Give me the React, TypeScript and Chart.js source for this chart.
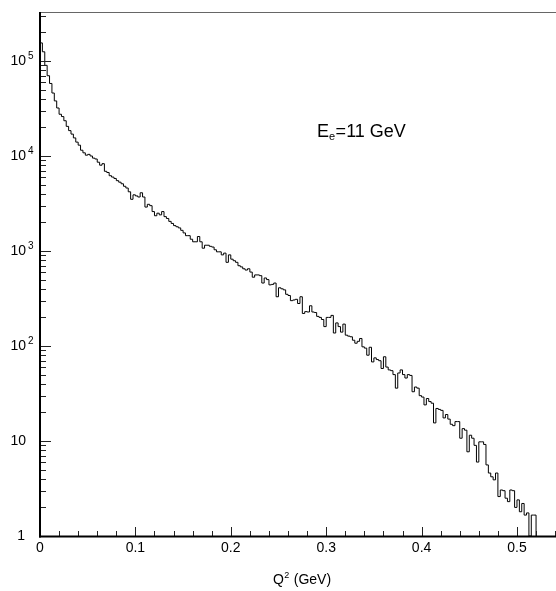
import React, { useEffect, useRef } from "react";
import { Chart, registerables } from "chart.js";

Chart.register(...registerables);

// Histogram: Q^2 distribution, bins of 0.0025 GeV starting at 0
const BIN_WIDTH = 0.0025;
const counts: number[] = [
  160000, 155000, 125000, 90000, 70000, 58000, 46000, 38000, 32000, 27500,
  26000, 23500, 20500, 18500, 17000, 15500, 14000, 13000, 11500, 10800,
  10200, 10400, 10000, 9500, 9300, 8600, 8000, 8300, 6900, 6700,
  6200, 6000, 5800, 5500, 5300, 5100, 4800, 4600, 4200, 3500,
  3900, 3800, 3700, 4100, 3700, 2900, 3100, 3000, 2600, 2350,
  2500, 2400, 2600, 2300, 2200, 2050, 1950, 1850, 1800, 1750,
  1650, 1550, 1450, 1450, 1330, 1250, 1250, 1420, 1250, 1070,
  1150, 1150, 1120, 1100, 1030, 980, 980, 910, 950, 760,
  910, 820, 790, 760, 700, 680, 650, 630, 650, 600,
  530, 560, 560, 550, 460, 520, 500, 440, 445, 460,
  330, 410, 400, 390, 350, 340, 300, 305, 310, 280,
  330, 220, 230, 228, 265, 228, 225, 205, 200, 190,
  160, 200, 200, 210, 137, 175, 160, 140, 170, 130,
  127, 125, 115, 107, 112, 120, 98, 95, 80, 97,
  68, 75, 72, 70, 58, 77, 60, 56, 55, 50,
  36, 52, 56, 50, 46, 50, 49, 33, 37, 36,
  30, 29, 24, 28, 26, 25, 15.5, 22, 21.5, 21,
  17.5, 19, 17, 15, 14.5, 16, 16, 10.7, 13.5, 13,
  7.7, 11.5, 10.7, 9, 6, 9.8, 9.8, 9.2, 5.6, 4.6,
  4.2, 3.9, 4.6, 2.6, 3.05, 3.0, 2.5, 2.3, 3.05, 3.0,
  2.0, 2.4, 1.8, 2.2, 1.66, 1.75, 1, 1.66,
];

const X_MIN = 0;
const X_MAX = 0.5409;
const Y_MIN = 1;
const Y_MAX = 320000;

const xMajorTicks = [0, 0.1, 0.2, 0.3, 0.4, 0.5];
const xTickLabels = ["0", "0.1", "0.2", "0.3", "0.4", "0.5"];
const xMinorStep = 0.02;
const yDecades = [0, 1, 2, 3, 4, 5];

const xTitleMain = "Q";
const xTitleSup = "2";
const xTitleRest = " (GeV)";
const annotMain = "E";
const annotSub = "e";
const annotRest = "=11 GeV";

const FONT = '"Liberation Sans", Arial, Helvetica, sans-serif';

const rootStylePlugin = {
  id: "rootStyle",
  afterDraw(chart: any) {
    const ctx: CanvasRenderingContext2D = chart.ctx;
    const { left, right, top, bottom } = chart.chartArea;
    const xs = chart.scales.x;
    const ys = chart.scales.y;
    ctx.save();

    // top frame line
    ctx.strokeStyle = "#666";
    ctx.lineWidth = 1;
    ctx.beginPath();
    ctx.moveTo(left, top - 0.5);
    ctx.lineTo(right, top - 0.5);
    ctx.stroke();

    // y ticks (inside)
    ctx.strokeStyle = "#222";
    ctx.lineWidth = 1;
    for (let d = 0; d <= 6; d++) {
      for (let m = 1; m <= 9; m++) {
        const v = m * Math.pow(10, d);
        if (v <= Y_MIN || v > Y_MAX) continue;
        const y = Math.round(ys.getPixelForValue(v)) + 0.5;
        const len = m === 1 ? 10 : 5;
        ctx.beginPath();
        ctx.moveTo(left + 1, y);
        ctx.lineTo(left + 1 + len, y);
        ctx.stroke();
      }
    }

    // x ticks (inside)
    for (let k = 0; k * xMinorStep <= X_MAX + 1e-9; k++) {
      const v = k * xMinorStep;
      if (v === 0) continue;
      const x = Math.round(xs.getPixelForValue(v)) + 0.5;
      const major = k % 5 === 0;
      const len = major ? 9 : 5;
      ctx.beginPath();
      ctx.moveTo(x, bottom);
      ctx.lineTo(x, bottom - len);
      ctx.stroke();
    }

    // axes lines
    ctx.strokeStyle = "#000";
    ctx.lineWidth = 2;
    ctx.beginPath();
    ctx.moveTo(left, top - 1);
    ctx.lineTo(left, bottom + 1.5);
    ctx.stroke();
    ctx.beginPath();
    ctx.moveTo(left - 1, bottom + 0.5);
    ctx.lineTo(right, bottom + 0.5);
    ctx.stroke();

    // y labels
    ctx.fillStyle = "#000";
    ctx.textBaseline = "middle";
    for (const d of yDecades) {
      const y = ys.getPixelForValue(Math.pow(10, d));
      ctx.font = `14px ${FONT}`;
      ctx.textAlign = "right";
      if (d === 0) {
        ctx.fillText("1", 25, y);
      } else {
        ctx.fillText("10", 26, y);
        if (d >= 2) {
          ctx.font = `10px ${FONT}`;
          ctx.textAlign = "left";
          ctx.fillText(String(d), 28, y - 5);
        }
      }
    }

    // x labels
    ctx.font = `14px ${FONT}`;
    ctx.textAlign = "center";
    ctx.textBaseline = "middle";
    xMajorTicks.forEach((v, i) => {
      ctx.fillText(xTickLabels[i], xs.getPixelForValue(v), 548);
    });

    // x title
    ctx.textBaseline = "alphabetic";
    ctx.textAlign = "left";
    ctx.font = `14px ${FONT}`;
    const wQ = ctx.measureText(xTitleMain).width;
    const wR = ctx.measureText(xTitleRest).width;
    ctx.font = `9px ${FONT}`;
    const wS = ctx.measureText(xTitleSup).width;
    let tx = 302 - (wQ + wS + 1 + wR) / 2;
    ctx.font = `14px ${FONT}`;
    ctx.fillText(xTitleMain, tx, 584);
    tx += wQ + 0.5;
    ctx.font = `9px ${FONT}`;
    ctx.fillText(xTitleSup, tx, 578);
    tx += wS + 0.5;
    ctx.font = `14px ${FONT}`;
    ctx.fillText(xTitleRest, tx, 584);

    // annotation
    let ax = 317;
    ctx.font = `18px ${FONT}`;
    ctx.fillText(annotMain, ax, 137);
    ax += ctx.measureText(annotMain).width;
    ctx.font = `11px ${FONT}`;
    ctx.fillText(annotSub, ax, 140);
    ax += ctx.measureText(annotSub).width + 0.5;
    ctx.font = `18px ${FONT}`;
    ctx.fillText(annotRest, ax, 137);

    ctx.restore();
  },
};

export default function App() {
  const canvasRef = useRef<HTMLCanvasElement | null>(null);

  useEffect(() => {
    if (!canvasRef.current) return;
    const pts: { x: number; y: number }[] = [];
    pts.push({ x: 0, y: Y_MIN });
    counts.forEach((c, i) => pts.push({ x: i * BIN_WIDTH, y: c }));
    const lastEdge = counts.length * BIN_WIDTH;
    pts.push({ x: lastEdge, y: counts[counts.length - 1] });
    pts.push({ x: lastEdge, y: Y_MIN });

    const chart = new Chart(canvasRef.current, {
      type: "line",
      data: {
        datasets: [
          {
            data: pts,
            stepped: "after",
            borderColor: "#000",
            borderWidth: 1,
            pointRadius: 0,
            fill: false,
            tension: 0,
          },
        ],
      },
      options: {
        animation: false,
        responsive: false,
        devicePixelRatio: 1,
        parsing: false as any,
        normalized: true,
        layout: { padding: { left: 40, top: 13, right: 0, bottom: 55 } },
        scales: {
          x: { type: "linear", min: X_MIN, max: X_MAX, display: false },
          y: { type: "logarithmic", min: Y_MIN, max: Y_MAX, display: false },
        },
        plugins: {
          legend: { display: false },
          tooltip: { enabled: false },
        },
      },
      plugins: [rootStylePlugin],
    });
    return () => chart.destroy();
  }, []);

  return (
    <div style={{ position: "fixed", left: 0, top: 0, width: 556, height: 591, background: "#fff" }}>
      <canvas ref={canvasRef} width={556} height={591} style={{ display: "block" }} />
    </div>
  );
}
